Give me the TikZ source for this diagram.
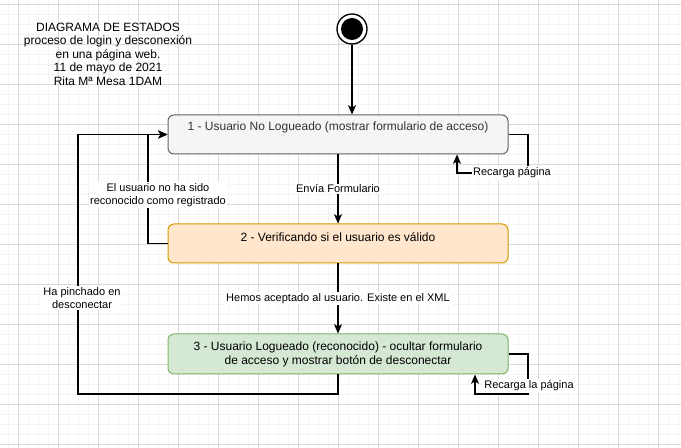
\documentclass[tikz,border=0pt]{standalone}
\usepackage{fontspec}
\setmainfont{Liberation Sans}
\usetikzlibrary{arrows.meta}
\definecolor{g1fill}{HTML}{F5F5F5}
\definecolor{g1draw}{HTML}{666666}
\definecolor{g1text}{HTML}{333333}
\definecolor{o2fill}{HTML}{FFE6CC}
\definecolor{o2draw}{HTML}{D79B00}
\definecolor{v3fill}{HTML}{D5E8D4}
\definecolor{v3draw}{HTML}{82B366}
\definecolor{gridmin}{HTML}{F4F4F4}
\definecolor{gridmaj}{HTML}{DADADA}
\tikzset{
  statebox/.style={rectangle, rounded corners=4.5pt, line width=0.75pt,
    minimum width=255pt, inner sep=0pt, font=\fontsize{9}{10.5}\selectfont, align=center},
  conn/.style={line width=0.8pt, draw=black, -{Stealth[length=7pt,width=6pt,inset=1.8pt]}},
  elabel/.style={fill=white, inner sep=1pt, font=\fontsize{8.25}{10}\selectfont, align=center},
  boxtext/.style={font=\fontsize{9}{10.5}\selectfont, align=center, inner sep=0pt}
}
\begin{document}
\begin{tikzpicture}[x=0.75pt,y=-0.75pt]
\useasboundingbox (0,0) rectangle (681,448);
\fill[white] (0,0) rectangle (681,448);
% grid
\foreach \gx in {8,18,...,678} {\draw[gridmin,line width=0.6pt] (\gx,0) -- (\gx,448);}
\foreach \gy in {4,14,...,444} {\draw[gridmin,line width=0.6pt] (0,\gy) -- (681,\gy);}
\foreach \gx in {18,58,...,678} {\draw[gridmaj,line width=0.6pt] (\gx,0) -- (\gx,448);}
\foreach \gy in {4,44,...,444} {\draw[gridmaj,line width=0.6pt] (0,\gy) -- (681,\gy);}

% title
\node[align=center, font=\fontsize{9}{10.1}\selectfont] (title) at (108,54)
  {DIAGRAMA DE ESTADOS\\proceso de login y desconexión\\en una página web.\\11 de mayo de 2021\\Rita Mª Mesa 1DAM};

% start state
\node[circle, draw=black, line width=1pt, fill=white, minimum size=22.5pt, inner sep=0pt,
  path picture={\fill[black] (path picture bounding box.center) circle (8.25pt);}] (start) at (352,29) {};

% states
\node[statebox, fill=g1fill, draw=g1draw, minimum height=29.25pt,
  label={[boxtext, text=g1text, yshift=5pt]center:1 - Usuario No Logueado (mostrar formulario de acceso)}]
  (b1) at (338,134.5) {};
\node[statebox, fill=o2fill, draw=o2draw, minimum height=29.25pt,
  label={[boxtext, yshift=5pt]center:2 - Verificando si el usuario es válido}]
  (b2) at (338,243.5) {};
\node[statebox, fill=v3fill, draw=v3draw, minimum height=30pt]
  (b3) at (338,354) {3 - Usuario Logueado (reconocido) - ocultar formulario\\de acceso y mostrar botón de desconectar};

% connectors
\draw[conn] (start.south) -- (start.south |- b1.north);

\draw[conn] (b1.south) -- node[elabel] (l1) {Envía Formulario} (b2.north);
\draw[conn] (b2.south) -- node[elabel] (l2) {Hemos aceptado al usuario. Existe en el XML} (b3.north);

\coordinate (c2a) at (148,243.5);
\coordinate (c2b) at (148,134.5);
\draw[conn] (b2.west) -- (c2a) -- (c2b) -- (b1.west);
\node[elabel] (l3) at (158,195) {El usuario no ha sido\\reconocido como registrado};

\coordinate (c3a) at (338,394);
\coordinate (c3b) at (78,394);
\coordinate (c3c) at (78,134.5);
\draw[conn] (b3.south) -- (c3a) -- (c3b) -- (c3c) -- (b1.west);
\node[elabel] (l4) at (82,298) {Ha pinchado en\\desconectar};

\coordinate (r1a) at (528,134.5);
\coordinate (r1b) at (528,173);
\coordinate (r1c) at (457,173);
\draw[conn] (b1.east) -- (r1a) -- (r1b) -- (r1c) -- (r1c |- b1.south);
\node[elabel] (l5) at (512,173) {Recarga página};

\coordinate (r3a) at (528,354);
\coordinate (r3b) at (528,394);
\coordinate (r3c) at (475,394);
\draw[conn] (b3.east) -- (r3a) -- (r3b) -- (r3c) -- (r3c |- b3.south);
\node[elabel] (l6) at (529,386) {Recarga la página};
\end{tikzpicture}
\end{document}
